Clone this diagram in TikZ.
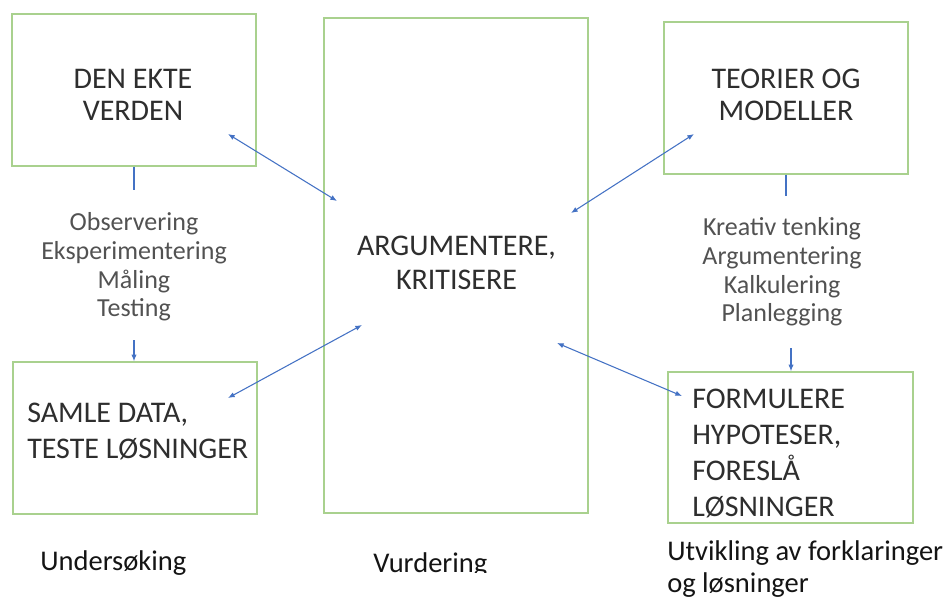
\documentclass[tikz,border=0pt]{standalone}
\usepackage{fontspec}
\setmainfont{Carlito}
\usetikzlibrary{arrows.meta}
\definecolor{boksgronn}{RGB}{169,209,142}
\definecolor{pilbla}{RGB}{68,114,196}
\tikzset{boks/.style={draw=boksgronn,line width=1.1pt,inner sep=0pt,minimum width=183pt,minimum height=114pt}}
\tikzset{tekst/.style={text=black!82,align=center,inner sep=0pt,font=\fontsize{22.5}{24}\selectfont}}
\tikzset{tett/.style={align=left,font=\fontsize{22.5}{27}\selectfont}}
\tikzset{prosess/.style={text=black!68,align=center,inner sep=0pt,font=\fontsize{19.5}{21.5}\selectfont}}
\tikzset{fase/.style={text=black!92,align=left,inner sep=0pt,font=\fontsize{21.4}{24}\selectfont}}
\tikzset{pil/.style={pilbla,line width=0.8pt}}
\begin{document}
\begin{tikzpicture}[x=0.75pt,y=-0.75pt,>={Latex[length=5pt,width=4pt]}]
  \useasboundingbox (0,0) rectangle (952,599);
  % boksene
  \node[boks] (verden) at (134,90) {};
  \node[boks] (samle) at (135,438) {};
  \node[boks,minimum width=198pt,minimum height=371.25pt] (argu) at (456,265.5) {};
  \node[boks] (teori) at (786,98) {};
  \node[boks,minimum width=183.75pt,minimum height=113.25pt] (formul) at (790.5,447.5) {};
  % tekst i boksene
  \node[tekst] (verdentekst) at (133,94.5) {DEN EKTE\\VERDEN};
  \node[tekst,tett,anchor=west] (samletekst) at (27,431.5) {SAMLE DATA,\\TESTE LØSNINGER};
  \node[tekst,font=\fontsize{22.5}{25.5}\selectfont] (argutekst) at (456.5,263) {ARGUMENTERE,\\KRITISERE};
  \node[tekst] (teoritekst) at (786,95) {TEORIER OG\\MODELLER};
  \node[tekst,tett,anchor=west] (formultekst) at (692,453) {FORMULERE\\HYPOTESER,\\FORESLÅ\\LØSNINGER};
  % prosesser
  \node[prosess] (obs) at (134,267) {Observering\\Eksperimentering\\Måling\\Testing};
  \node[prosess] (kreativ) at (782,272) {Kreativ tenking\\Argumentering\\Kalkulering\\Planlegging};
  % faser
  \node[fase,anchor=west] (undersok) at (40,563) {Undersøking};
  \begin{scope}
    \clip (0,0) rectangle (952,572);
    \node[fase,anchor=west] (vurd) at (373,565) {Vurdering};
  \end{scope}
  \node[fase,anchor=west] (utvikl) at (667,569) {Utvikling av forklaringer\\og løsninger};
  % endepunkter
  \coordinate (o1) at (134,190);
  \coordinate (o2) at (134,340);
  \coordinate (k1) at (786,196);
  \coordinate (k2) at (791,348);
  \coordinate (v1) at (228,134);
  \coordinate (a1) at (337,201);
  \coordinate (s1) at (228,398);
  \coordinate (a2) at (362,325);
  \coordinate (t1) at (694,134);
  \coordinate (a3) at (571,213);
  \coordinate (f1) at (682,396);
  \coordinate (a4) at (557,343);
  % piler
  \draw[pil] (verden.south) -- (o1);
  \draw[pil,->] (o2) -- (o2 |- samle.north);
  \draw[pil] (teori.south) -- (k1);
  \draw[pil,->] (k2) -- (k2 |- formul.north);
  \draw[pil,<->] (v1) -- (a1);
  \draw[pil,<->] (s1) -- (a2);
  \draw[pil,<->] (t1) -- (a3);
  \draw[pil,<->] (f1) -- (a4);
\end{tikzpicture}
\end{document}
